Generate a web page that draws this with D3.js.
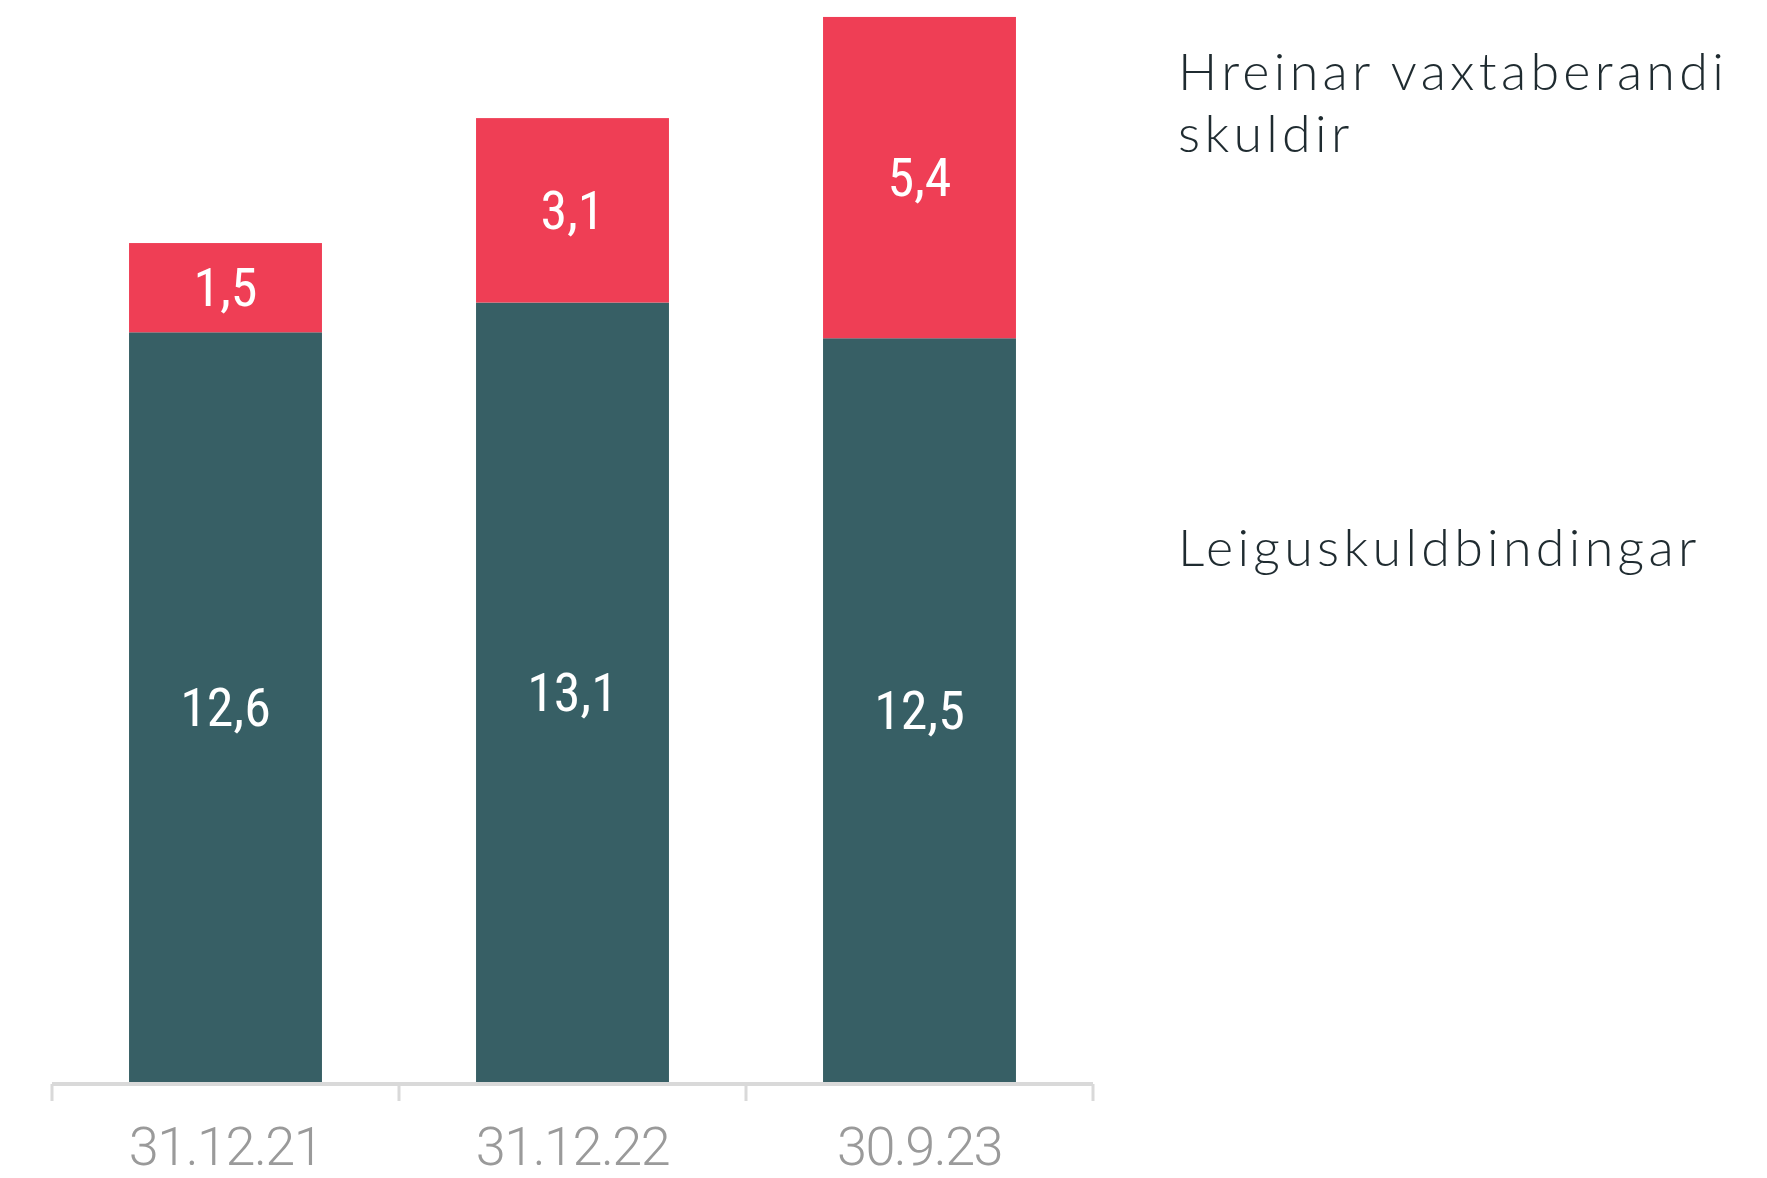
<html><head><title>Vaxtaberandi skuldir</title>
<style>
    body {
        margin: 0;
        background-color: #ffffff;
    }
    .value-label {
        font-family: 'Liberation Sans Narrow', 'Arial Narrow', 'Roboto Condensed', sans-serif;
        font-size: 54px;
        fill: #ffffff;
    }
    .axis-label {
        font-family: Roboto, 'Liberation Sans Narrow', sans-serif;
        font-weight: 300;
        font-size: 54px;
        letter-spacing: -1.5px;
        fill: #9a9a9a;
    }
    .legend-label {
        font-family: Lato, 'Open Sans', sans-serif;
        font-weight: 300;
        font-size: 52px;
        letter-spacing: 4.3px;
        fill: #1f2b30;
    }
</style>
<script src="https://cdnjs.cloudflare.com/ajax/libs/d3/7.8.5/d3.min.js"></script>
</head>
<body>
<div id="chart"></div>
<script>
// Data
const categories = ["31.12.21", "31.12.22", "30.9.23"];
const leiguskuldbindingar = [12.6, 13.1, 12.5];
const hreinarSkuldir = [1.5, 3.1, 5.4];
const seriesNames = ["Leiguskuldbindingar", "Hreinar vaxtaberandi skuldir"];
const seriesColors = ["#375f65", "#ef3e55"];

const width = 1767;
const height = 1178;

const svg = d3.select("#chart")
    .append("svg")
    .attr("width", width)
    .attr("height", height);

const x = d3.scaleBand()
    .domain(categories)
    .range([52, 1093])
    .paddingInner(0.444)
    .paddingOuter(0.222);

const y = d3.scaleLinear()
    .domain([0, 18])
    .range([1082, 11]);

const rows = categories.map((c, i) => ({
    cat: c,
    leiga: leiguskuldbindingar[i],
    hreinar: hreinarSkuldir[i]
}));

const stack = d3.stack().keys(["leiga", "hreinar"]);
const series = stack(rows);

// Bars
const groups = svg.append("g")
    .selectAll("g")
    .data(series)
    .enter().append("g")
    .attr("fill", (d, i) => seriesColors[i]);

groups.selectAll("rect")
    .data(d => d)
    .enter().append("rect")
    .attr("x", d => x(d.data.cat))
    .attr("y", d => y(d[1]))
    .attr("width", x.bandwidth())
    .attr("height", d => y(d[0]) - y(d[1]));

// Value labels in the middle of each segment
groups.selectAll("text")
    .data(d => d.map(p => ({ p: p, key: d.key })))
    .enter().append("text")
    .attr("class", "value-label")
    .attr("x", d => x(d.p.data.cat) + x.bandwidth() / 2)
    .attr("y", d => (y(d.p[0]) + y(d.p[1])) / 2)
    .attr("text-anchor", "middle")
    .attr("dominant-baseline", "central")
    .text(d => d3.format(".1f")(d.p.data[d.key]).replace(".", ","));

// Axis line with ticks between the categories
const step = x.step();
const axisY = y(0) + 2;
const edges = categories.map(c => x(c) - x.paddingInner() * step / 2);
edges.push(x.range()[1]);

const axis = svg.append("g");
axis.append("line")
    .attr("x1", x.range()[0])
    .attr("x2", x.range()[1])
    .attr("y1", axisY)
    .attr("y2", axisY)
    .attr("stroke", "#d9d9d9")
    .attr("stroke-width", 4);

axis.selectAll("line.tick")
    .data(edges)
    .enter().append("line")
    .attr("class", "tick")
    .attr("x1", d => d)
    .attr("x2", d => d)
    .attr("y1", axisY)
    .attr("y2", axisY + 17)
    .attr("stroke", "#d9d9d9")
    .attr("stroke-width", 3);

axis.selectAll("text")
    .data(categories)
    .enter().append("text")
    .attr("class", "axis-label")
    .attr("x", d => x(d) + x.bandwidth() / 2)
    .attr("y", 1165)
    .attr("text-anchor", "middle")
    .text(d => d);

// Legend texts to the right
const legend = svg.append("g");
legend.append("text")
    .attr("class", "legend-label")
    .attr("x", 1178)
    .attr("y", 90)
    .text("Hreinar vaxtaberandi");
legend.append("text")
    .attr("class", "legend-label")
    .attr("x", 1178)
    .attr("y", 152)
    .text("skuldir");
legend.append("text")
    .attr("class", "legend-label")
    .attr("x", 1178)
    .attr("y", 566)
    .text(seriesNames[0]);
</script>
</body>
</html>
